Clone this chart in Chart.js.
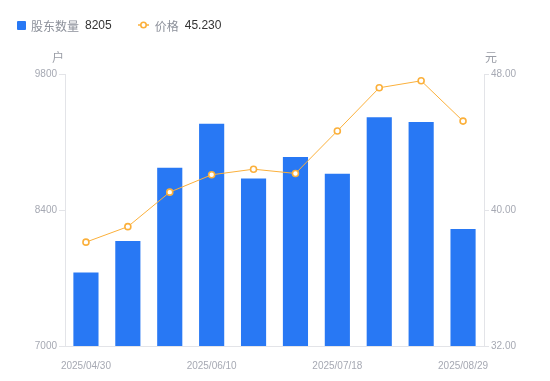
<!DOCTYPE html>
<html>
<head>
<meta charset="utf-8">
<script src="https://cdn.jsdelivr.net/npm/chart.js@4"></script>
<style>
  html, body { margin: 0; padding: 0; background: #fff; }
  #wrap { position: relative; width: 550px; height: 381px; }
  #legend {
    position: absolute; left: 17px; top: 16px; height: 18px;
    display: flex; align-items: center;
    font: 12px "Liberation Sans", "Noto Sans CJK SC", sans-serif;
  }
  #legend .item { display: flex; align-items: center; margin-right: 26px; }
  #legend .sq { width: 9px; height: 9px; background: #2878f4; border-radius: 1px; margin-right: 5px; }
  #legend .name { color: #8c909a; margin-right: 6px; }
  #legend .val { color: #333; }
  #legend svg { margin-right: 6px; }
</style>
</head>
<body>
<div id="wrap">
  <div id="legend"></div>
  <canvas id="c" width="550" height="381"></canvas>
</div>
<script>
// 日期（中間幾個是估計的）
const dates = ['2025/04/30', '2025/05/13', '2025/05/27', '2025/06/10', '2025/06/20',
               '2025/06/30', '2025/07/18', '2025/07/31', '2025/08/15', '2025/08/29'];
// 股东数量（户）
const holders = [7756, 8080, 8836, 9287, 8723, 8946, 8774, 9356, 9305, 8205];
// 价格（元）
const prices = [38.11, 39.02, 41.05, 42.07, 42.40, 42.15, 44.65, 47.19, 47.60, 45.23];

const BLUE = '#2878f4';
const ORANGE = '#fbb03b';
const TICK = '#a6a9b3';
const AXIS = '#e3e4e8';

// 圖例（HTML）
document.getElementById('legend').innerHTML =
  '<div class="item"><div class="sq"></div><span class="name">股东数量</span>' +
  '<span class="val">' + holders[holders.length - 1] + '</span></div>' +
  '<div class="item"><svg width="11" height="8"><line x1="0" y1="4" x2="11" y2="4" stroke="' + ORANGE + '" stroke-width="1.5"/>' +
  '<circle cx="5.5" cy="4" r="2.7" fill="#fff" stroke="' + ORANGE + '" stroke-width="1.6"/></svg>' +
  '<span class="name">价格</span><span class="val">' + prices[prices.length - 1].toFixed(3) + '</span></div>';

// 單位文字
const unitPlugin = {
  id: 'units',
  afterDraw(chart) {
    const { ctx, chartArea } = chart;
    ctx.save();
    ctx.font = '12px "Noto Sans CJK SC", sans-serif';
    ctx.fillStyle = '#9a9da6';
    ctx.textBaseline = 'middle';
    ctx.textAlign = 'right';
    ctx.fillText('户', chartArea.left - 1, 57);
    ctx.textAlign = 'left';
    ctx.fillText('元', chartArea.right + 1, 57);
    ctx.restore();
  }
};

const tickFont = { family: '"Liberation Sans", Arial, sans-serif', size: 10 };

new Chart(document.getElementById('c').getContext('2d'), {
  data: {
    labels: dates,
    datasets: [
      {
        type: 'line',
        label: '价格',
        data: prices,
        yAxisID: 'y1',
        borderColor: ORANGE,
        borderWidth: 1,
        pointRadius: 3,
        pointBorderWidth: 1.6,
        pointBackgroundColor: '#fff',
        pointBorderColor: ORANGE,
        tension: 0,
        order: 0
      },
      {
        type: 'bar',
        label: '股东数量',
        data: holders,
        yAxisID: 'y',
        backgroundColor: BLUE,
        categoryPercentage: 0.6,
        barPercentage: 1,
        order: 1
      }
    ]
  },
  options: {
    responsive: false,
    animation: false,
    layout: { padding: { top: 74, left: 0, right: 0, bottom: 0 } },
    plugins: { legend: { display: false }, tooltip: { enabled: false } },
    scales: {
      x: {
        grid: { display: false },
        border: { display: true, color: AXIS },
        ticks: {
          color: TICK, font: tickFont, maxRotation: 0, autoSkip: false, padding: 6,
          callback: (v, i) => (i % 3 === 0 ? dates[i] : '')
        },
        afterFit: s => { s.height = 35; }
      },
      y: {
        position: 'left',
        min: 7000, max: 9800,
        grid: { drawOnChartArea: false, drawTicks: true, tickLength: 6, color: AXIS },
        border: { display: true, color: AXIS },
        ticks: { stepSize: 1400, color: TICK, font: tickFont, padding: 2, callback: v => String(v) },
        afterFit: s => { s.width = 65; }
      },
      y1: {
        position: 'right',
        min: 32, max: 48,
        grid: { drawOnChartArea: false, drawTicks: true, tickLength: 5, color: AXIS },
        border: { display: true, color: AXIS },
        ticks: { stepSize: 8, color: TICK, font: tickFont, padding: 2, callback: v => v.toFixed(2) },
        afterFit: s => { s.width = 66; }
      }
    }
  },
  plugins: [unitPlugin]
});
</script>
</body>
</html>
